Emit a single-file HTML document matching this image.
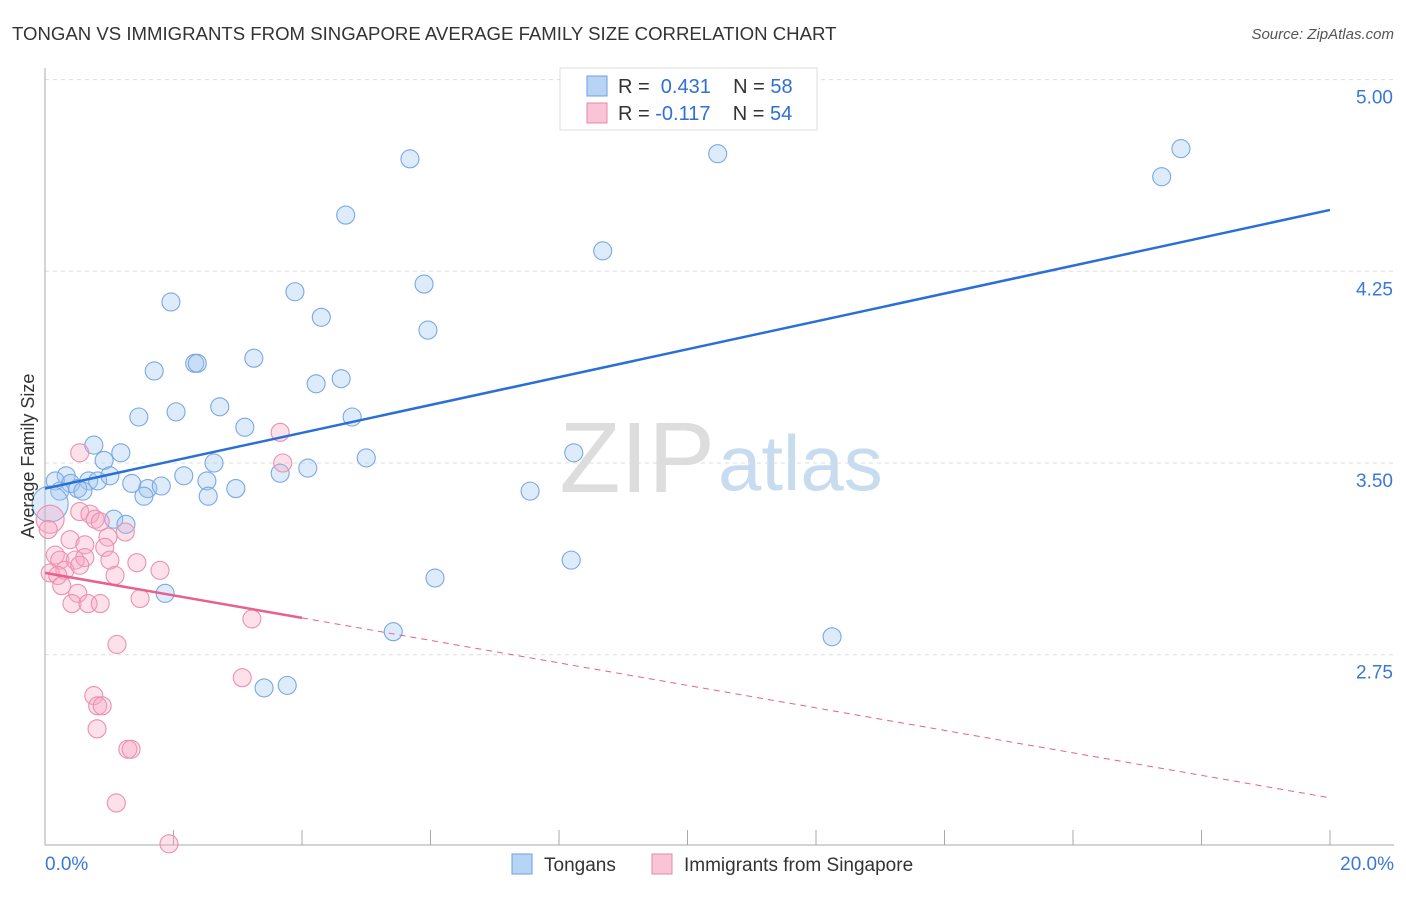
<!DOCTYPE html>
<html><head><meta charset="utf-8"><style>
body{margin:0;background:#fff;font-family:"Liberation Sans",sans-serif;}
svg text{font-family:"Liberation Sans",sans-serif;}
</style></head><body>
<svg id="chart" width="1406" height="892">
<text x="12" y="40" font-size="18.6" fill="#333">TONGAN VS IMMIGRANTS FROM SINGAPORE AVERAGE FAMILY SIZE CORRELATION CHART</text>
<text x="1394" y="39" font-size="15" fill="#555" text-anchor="end" font-style="italic">Source: ZipAtlas.com</text>
<text x="715" y="492" font-size="100" fill="#ddd" text-anchor="end" font-family="Liberation Serif">ZIP</text>
<text x="718" y="490" font-size="78" fill="#c8dcf0">atlas</text>
<g id="grid"></g>
<g id="axes"></g>
<g id="points"></g>
<g id="lines"></g>
<text transform="translate(34,456) rotate(-90)" font-size="18" fill="#333" text-anchor="middle">Average Family Size</text>
<g>
<rect x="560" y="68" width="257" height="62" fill="#fff" stroke="#ddd"/>
<rect x="587" y="76" width="20" height="20" fill="#b8d4f5" stroke="#6a9fe0"/>
<rect x="587" y="103" width="20" height="20" fill="#f9c4d6" stroke="#e888a8"/>
<text x="618" y="93" font-size="20" fill="#333">R = <tspan fill="#2f6fd6">&#160;0.431</tspan>&#160;&#160;&#160;&#160;N = <tspan fill="#2f6fd6">58</tspan></text>
<text x="618" y="120" font-size="20" fill="#333">R = <tspan fill="#2f6fd6">-0.117</tspan>&#160;&#160;&#160;&#160;N = <tspan fill="#2f6fd6">54</tspan></text>
</g>
<g>
<rect x="512" y="854" width="20" height="20" fill="#b8d4f5" stroke="#6a9fe0"/>
<text x="544" y="871" font-size="19" fill="#333">Tongans</text>
<rect x="652" y="854" width="20" height="20" fill="#f9c4d6" stroke="#e888a8"/>
<text x="684" y="871" font-size="19" fill="#333">Immigrants from Singapore</text>
</g>
</svg>
<script>
const xTicks=[0,2,4,6,8,10,12,14,16,18,20];
const yTicks=[2.75,3.5,4.25,5.0];
const yTickLabels=["2.75","3.50","4.25","5.00"];
const tonganX=[5.68,10.47,17.68,17.38,4.68,8.68,3.89,5.90,1.96,4.30,5.96,2.33,2.37,3.25,1.70,4.22,4.61,1.46,2.04,2.72,4.78,3.11,0.76,1.18,0.92,2.63,5.00,8.23,0.33,0.16,2.16,4.09,3.66,0.40,0.68,0.82,1.01,1.35,0.23,0.51,0.59,1.60,1.81,2.52,2.97,2.54,1.54,7.55,1.07,1.26,0.08,8.19,6.07,1.87,5.42,12.25,3.41,3.77];
const tonganY=[4.69,4.71,4.73,4.62,4.47,4.33,4.17,4.20,4.13,4.07,4.02,3.89,3.89,3.91,3.86,3.81,3.83,3.68,3.70,3.72,3.68,3.64,3.57,3.54,3.51,3.50,3.52,3.54,3.45,3.43,3.45,3.48,3.46,3.42,3.43,3.43,3.45,3.42,3.39,3.40,3.39,3.40,3.41,3.43,3.40,3.37,3.37,3.39,3.28,3.26,3.34,3.12,3.05,2.99,2.84,2.82,2.62,2.63];
const singX=[3.66,0.54,3.70,0.08,0.05,0.54,0.70,0.78,0.86,1.25,0.39,0.62,0.98,0.93,0.16,0.23,0.47,0.62,1.01,1.43,0.31,0.54,0.08,0.20,1.09,1.79,0.26,0.51,1.48,0.42,0.67,0.86,3.22,1.12,3.07,0.76,0.82,0.89,0.81,1.29,1.34,1.11,1.93];
const singY=[3.62,3.54,3.50,3.28,3.24,3.31,3.30,3.28,3.27,3.23,3.20,3.18,3.21,3.17,3.14,3.12,3.12,3.13,3.12,3.11,3.08,3.10,3.07,3.06,3.06,3.08,3.02,2.99,2.97,2.95,2.95,2.95,2.89,2.79,2.66,2.59,2.55,2.55,2.46,2.38,2.38,2.17,2.01];
const tonganTrend=[3.40,4.49];
const singTrend=[3.07,2.19];
const NS="http://www.w3.org/2000/svg";
const X=v=>45+v/20*1285;
const Y=v=>463-(v-3.5)*255.6;
function mk(tag,attrs,parent){const e=document.createElementNS(NS,tag);for(const k in attrs)e.setAttribute(k,attrs[k]);parent.appendChild(e);return e;}
const grid=document.getElementById('grid'),axes=document.getElementById('axes'),pts=document.getElementById('points'),lines=document.getElementById('lines');
yTicks.forEach((t,i)=>{
  const l=mk('line',{x1:45,x2:1394,y1:Y(t),y2:Y(t),stroke:'#ddd','stroke-dasharray':'4,4'},grid);
  
  
  const tx=mk('text',{x:1393,y:Y(t)+24,'font-size':19,fill:'#3a78d8','text-anchor':'end'},axes);
  tx.textContent=yTickLabels[i];
  
  
});
const ax=mk('line',{x1:45,x2:45,y1:68,y2:845,stroke:'#aaa'},axes);


const bx=mk('line',{x1:45,x2:1394,y1:845,y2:845,stroke:'#aaa'},axes);


xTicks.forEach(t=>{
  const l=mk('line',{x1:X(t),x2:X(t),y1:830,y2:845,stroke:'#aaa'},axes);
  
  
});
[[0,'0.0%','start',45],[20,'20.0%','end',1394]].forEach(a=>{
  const tx=mk('text',{x:a[3],y:870,'font-size':19,fill:'#3a78d8','text-anchor':a[2]},axes);
  tx.textContent=a[1];
  
  
});
tonganX.forEach((v,i)=>{
  const c=mk('circle',{cx:X(v),cy:Y(tonganY[i]),r:(i==50?18:9),fill:'rgba(160,198,242,0.35)',stroke:'#78a8e4','stroke-width':1.1},pts);
  
  
});
singX.forEach((v,i)=>{
  const c=mk('circle',{cx:X(v),cy:Y(singY[i]),r:(i==3?14:9),fill:'rgba(245,165,195,0.35)',stroke:'#ec90b0','stroke-width':1.1},pts);
  
  
});
const tl=mk('line',{x1:X(0),y1:Y(tonganTrend[0]),x2:X(20),y2:Y(tonganTrend[1]),stroke:'#2a6fd6','stroke-width':2.5},lines);


const sy=v=>singTrend[0]+(singTrend[1]-singTrend[0])*v/20;
const sl=mk('line',{x1:X(0),y1:Y(sy(0)),x2:X(4),y2:Y(sy(4)),stroke:'#e8608c','stroke-width':2.5},lines);


const sd=mk('line',{x1:X(4),y1:Y(sy(4)),x2:X(20),y2:Y(sy(20)),stroke:'#e8608c','stroke-width':1,'stroke-dasharray':'6,5'},lines);


</script>
</body></html>
